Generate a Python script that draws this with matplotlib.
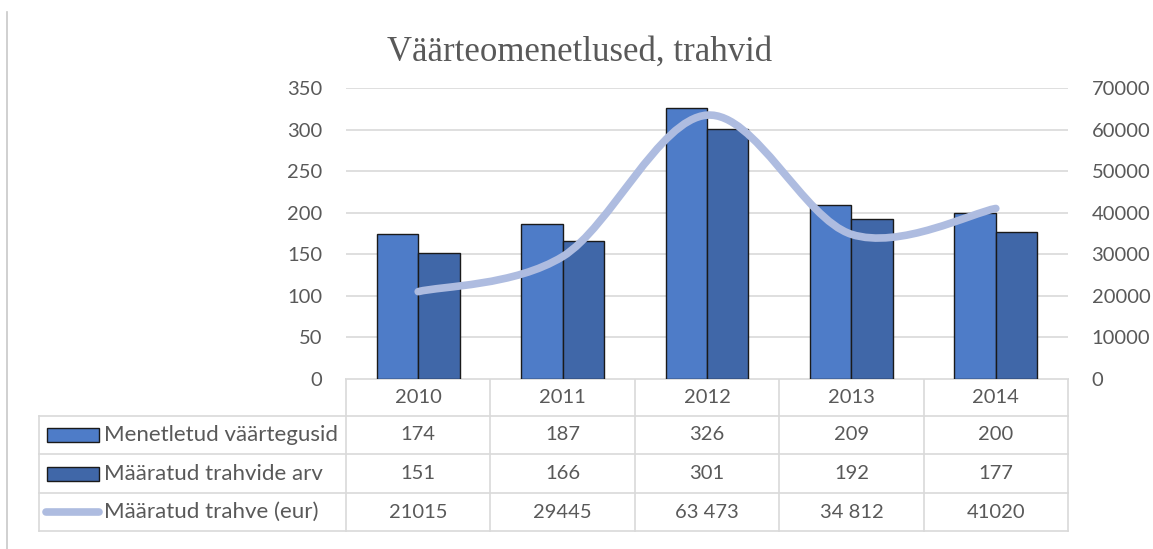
import matplotlib.pyplot as plt
from matplotlib.lines import Line2D
from matplotlib.patches import Rectangle, PathPatch
from matplotlib.path import Path
import numpy as np

years = ["2010", "2011", "2012", "2013", "2014"]
menetletud = [174, 187, 326, 209, 200]
trahvide_arv = [151, 166, 301, 192, 177]
trahve_eur = [21015, 29445, 63473, 34812, 41020]
trahve_labels = ["21015", "29445", "63 473", "34 812", "41020"]

series_names = ["Menetletud väärtegusid", "Määratud trahvide arv", "Määratud trahve (eur)"]
title = "Väärteomenetlused, trahvid"

C_BAR1 = "#4E7CC8"
C_BAR2 = "#4067A8"
C_LINE = "#AEBCE0"
C_TEXT = "#595959"
C_GRID = "#D9D9D9"

W, H = 1153, 549
FONT = "Lato"

# plot area in pixels
PL, PR, PT, PB = 346, 1068, 88, 379


def fx(px):
    return px / W


def fy(py):
    return 1 - py / H


def smooth_path(xs, ys):
    # Catmull-Rom style bezier, like a spreadsheet "smoothed line"
    pts = np.column_stack([xs, ys]).astype(float)
    n = len(pts)
    verts = [pts[0]]
    codes = [Path.MOVETO]
    for i in range(n - 1):
        p0 = pts[max(i - 1, 0)]
        p1 = pts[i]
        p2 = pts[i + 1]
        p3 = pts[min(i + 2, n - 1)]
        c1 = p1 + (p2 - p0) / 6
        c2 = p2 - (p3 - p1) / 6
        verts += [c1, c2, p2]
        codes += [Path.CURVE4] * 3
    return Path(verts, codes)


fig = plt.figure(figsize=(W / 100, H / 100), dpi=100)

# table / frame layer in pixel coords
bg = fig.add_axes([0, 0, 1, 1])
bg.set_xlim(0, W)
bg.set_ylim(H, 0)
bg.axis("off")

ax = fig.add_axes([fx(PL), fy(PB), fx(PR - PL), (PB - PT) / H])
ax2 = ax.twinx()

x = np.arange(len(years))
bw = 0.287
ax.bar(x - bw / 2, menetletud, bw, color=C_BAR1, edgecolor="#1a1a1a", linewidth=1.0, zorder=3)
ax.bar(x + bw / 2, trahvide_arv, bw, color=C_BAR2, edgecolor="#1a1a1a", linewidth=1.0, zorder=3)

ax.set_xlim(-0.5, len(years) - 0.5)
ax.set_ylim(0, 350)
ax.set_yticks(range(0, 351, 50))
ax.set_xticks([])
ax.grid(axis="y", color=C_GRID, linewidth=1.2, zorder=0)
ax.set_axisbelow(True)

ax2.set_ylim(0, 70000)
ax2.set_yticks(range(0, 70001, 10000))
ax2.add_patch(PathPatch(smooth_path(x, trahve_eur), facecolor="none", edgecolor=C_LINE,
                        linewidth=5.5, capstyle="round", joinstyle="round", zorder=4))

for a in (ax, ax2):
    for s in a.spines.values():
        s.set_visible(False)
    a.tick_params(length=0, labelsize=14.5, labelcolor=C_TEXT)
    for lab in a.get_yticklabels():
        lab.set_fontfamily(FONT)
ax.tick_params(axis="y", pad=17)
ax2.tick_params(axis="y", pad=17)

fig.text(fx(580), fy(52), title, ha="center", va="center", fontsize=25,
         color=C_TEXT, family="Liberation Serif")

# left border line
bg.add_line(Line2D([7, 7], [12, H], color="#C8C8C8", linewidth=1.2))

# data table under the plot
col_w = (PR - PL) / len(years)
row_y = [379, 416, 454, 493, 531]
TL = 39
lw = 1.2
# horizontal lines
bg.add_line(Line2D([PL, PR], [row_y[0], row_y[0]], color=C_GRID, linewidth=lw))
for yy in row_y[1:]:
    bg.add_line(Line2D([TL, PR], [yy, yy], color=C_GRID, linewidth=lw))
# vertical lines
bg.add_line(Line2D([TL, TL], [row_y[1], row_y[-1]], color=C_GRID, linewidth=lw))
for i in range(len(years) + 1):
    xx = PL + i * col_w
    bg.add_line(Line2D([xx, xx], [row_y[0], row_y[-1]], color=C_GRID, linewidth=lw))

rows = [
    [str(v) for v in menetletud],
    [str(v) for v in trahvide_arv],
    trahve_labels,
]
for i, yr in enumerate(years):
    cx = PL + (i + 0.5) * col_w
    bg.text(cx, (row_y[0] + row_y[1]) / 2, yr, ha="center", va="center",
            fontsize=14.5, color=C_TEXT, family=FONT)
    for r, vals in enumerate(rows):
        bg.text(cx, (row_y[r + 1] + row_y[r + 2]) / 2, vals[i], ha="center", va="center",
                fontsize=14.5, color=C_TEXT, family=FONT)

for r, name in enumerate(series_names):
    cy = (row_y[r + 1] + row_y[r + 2]) / 2
    if r < 2:
        bg.add_patch(Rectangle((47, cy - 7), 52, 14, facecolor=[C_BAR1, C_BAR2][r],
                               edgecolor="#1a1a1a", linewidth=1.0))
    else:
        bg.add_line(Line2D([46, 99], [cy, cy], color=C_LINE, linewidth=5.5,
                           solid_capstyle="round"))
    bg.text(104, cy, name, ha="left", va="center", fontsize=16, color=C_TEXT, family=FONT)

fig.savefig("out.png", dpi=100)
